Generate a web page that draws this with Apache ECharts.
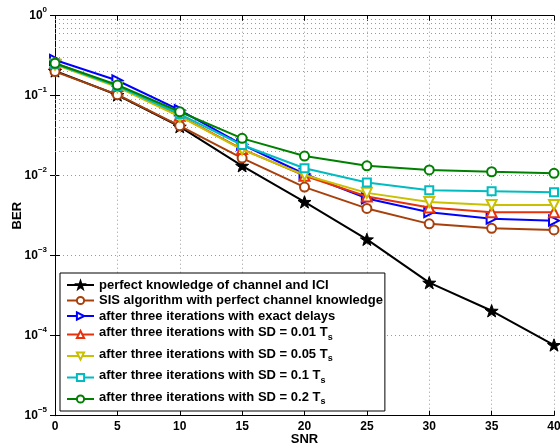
<!DOCTYPE html>
<html><head><meta charset="utf-8">
<script src="https://cdn.jsdelivr.net/npm/echarts@6/dist/echarts.min.js"></script>
<style>html,body{margin:0;padding:0;background:#fff}#c{width:560px;height:448px}</style>
</head><body><div id="c"></div>
<script>
const snr = [0, 5, 10, 15, 20, 25, 30, 35, 40];
const perfectICI  = [0.204, 0.102, 0.041, 0.0133, 0.0047, 0.0016, 0.00046, 0.000205, 0.0000765];
const sisPerfect  = [0.200, 0.103, 0.042, 0.0166, 0.0072, 0.0039, 0.0025, 0.0022, 0.0021];
const exactDelays = [0.280, 0.155, 0.066, 0.0245, 0.0105, 0.0052, 0.0035, 0.0029, 0.00274];
const sd001       = [0.255, 0.132, 0.056, 0.0215, 0.0100, 0.0055, 0.0040, 0.0035, 0.0035];
const sd005       = [0.245, 0.128, 0.055, 0.0212, 0.0102, 0.0061, 0.0047, 0.0043, 0.0043];
const sd01        = [0.250, 0.132, 0.059, 0.0242, 0.0124, 0.0082, 0.0066, 0.0064, 0.0062];
const sd02        = [0.254, 0.136, 0.063, 0.0293, 0.0176, 0.0133, 0.0118, 0.0112, 0.0107];
const seriesNames = [
  'perfect knowledge of channel and ICI',
  'SIS algorithm with perfect channel knowledge',
  'after three iterations with exact delays',
  'after three iterations with SD = 0.01 T_s',
  'after three iterations with SD = 0.05 T_s',
  'after three iterations with SD = 0.1 T_s',
  'after three iterations with SD = 0.2 T_s'
];
const xTicks = ['0', '5', '10', '15', '20', '25', '30', '35', '40'];

const STAR = 'path://M50 0 L61.75 33.8 L97.55 34.55 L69 56.2 L79.4 90.45 L50 70 L20.6 90.45 L31 56.2 L2.45 34.55 L38.25 33.8 Z';
const styles = [
  {color: '#000000', symbol: STAR, size: 13, rot: 0, fill: '#000000'},
  {color: '#A8400C', symbol: 'circle', size: 9, rot: 0, fill: '#ffffff'},
  {color: '#0000FF', symbol: 'triangle', size: 10, rot: -90, fill: '#ffffff'},
  {color: '#E8300A', symbol: 'triangle', size: 10, rot: 0, fill: '#ffffff'},
  {color: '#C8C000', symbol: 'triangle', size: 10, rot: 180, fill: '#ffffff'},
  {color: '#00BCC0', symbol: 'rect', size: 8, rot: 0, fill: '#ffffff'},
  {color: '#008000', symbol: 'circle', size: 9, rot: 0, fill: '#ffffff'}
];
const dataSets = [perfectICI, sisPerfect, exactDelays, sd001, sd005, sd01, sd02];

const minorVals = [];
for (let e = -5; e < 0; e++) for (let m = 2; m <= 9; m++) minorVals.push(m * Math.pow(10, e));

const FONT = '"Liberation Sans", Arial, sans-serif';
const series = dataSets.map((d, i) => ({
  name: seriesNames[i],
  type: 'line',
  data: snr.map((x, j) => [x, d[j]]),
  symbol: styles[i].symbol,
  symbolSize: styles[i].size,
  symbolRotate: styles[i].rot,
  symbolKeepAspect: true,
  showAllSymbol: true,
  lineStyle: {color: styles[i].color, width: 2},
  itemStyle: {color: styles[i].fill, borderColor: styles[i].color, borderWidth: i === 0 ? 1 : 2},
  z: 10 + i,
  animation: false
}));
series.push({
  name: '_minor', type: 'line', data: [], silent: true, animation: false,
  markLine: {
    silent: true, symbol: ['none', 'none'], label: {show: false}, animation: false,
    lineStyle: {color: '#9a9a9a', type: [1, 3], width: 1},
    data: minorVals.map(v => ({yAxis: v}))
  }
});

const chart = echarts.init(document.getElementById('c'), null, {renderer: 'canvas'});
chart.setOption({
  animation: false,
  backgroundColor: '#ffffff',
  grid: {left: 55, right: 6, top: 15.7, bottom: 32.3, containLabel: false, outerBoundsMode: 'none'},
  xAxis: [{
    type: 'value', min: 0, max: 40, interval: 5,
    name: 'SNR', nameLocation: 'middle', nameGap: 17, nameMoveOverlap: false,
    nameTextStyle: {fontFamily: FONT, fontWeight: 'bold', fontSize: 13, color: '#000'},
    axisLine: {lineStyle: {color: '#000', width: 1}},
    axisTick: {inside: true, length: 5, lineStyle: {color: '#000'}},
    axisLabel: {fontFamily: FONT, fontWeight: 'bold', fontSize: 12, color: '#000', margin: 5,
      formatter: v => xTicks[Math.round(v / 5)]},
    splitLine: {show: true, lineStyle: {color: '#9a9a9a', type: [1, 3], width: 1}}
  }, {
    type: 'value', min: 0, max: 40, interval: 5, position: 'top',
    axisLine: {show: true, lineStyle: {color: '#000', width: 1}},
    axisTick: {inside: true, length: 5, lineStyle: {color: '#000'}},
    axisLabel: {show: false}, splitLine: {show: false}
  }],
  yAxis: [{
    type: 'log', logBase: 10, min: 1e-5, max: 1,
    name: 'BER', nameLocation: 'middle', nameGap: 31, nameRotate: 90, nameMoveOverlap: false,
    nameTextStyle: {fontFamily: FONT, fontWeight: 'bold', fontSize: 13, color: '#000'},
    axisLine: {show: true, lineStyle: {color: '#000', width: 1}},
    axisTick: {show: true, inside: true, length: 5, lineStyle: {color: '#000'}},
    axisLabel: {
      margin: 8,
      formatter: v => '{b|10}{s|' + String(Math.round(Math.log10(v))).replace('-', '\u2212') + '}',
      rich: {
        b: {fontFamily: FONT, fontWeight: 'bold', fontSize: 12, color: '#000', lineHeight: 20, verticalAlign: 'middle'},
        s: {fontFamily: FONT, fontWeight: 'bold', fontSize: 8, color: '#000', verticalAlign: 'top', lineHeight: 20}
      }
    },
    splitLine: {show: true, lineStyle: {color: '#9a9a9a', type: [1, 3], width: 1}}
  }, {
    type: 'log', logBase: 10, min: 1e-5, max: 1, position: 'right',
    axisLine: {show: true, lineStyle: {color: '#000', width: 1}},
    axisTick: {show: true, inside: true, length: 5, lineStyle: {color: '#000'}},
    axisLabel: {show: false}, splitLine: {show: false}
  }],
  legend: {
    data: seriesNames,
    orient: 'vertical', left: 60, top: 273,
    padding: [4.5, 2, 1.5, 6], itemGap: 0.5, itemWidth: 27, itemHeight: 9,
    borderColor: '#000', borderWidth: 1, backgroundColor: '#ffffff',
    inactiveColor: '#000',
    formatter: name => {
      if (name.endsWith('T_s')) return '{a|' + name.slice(0, -2) + '}{s|s}';
      return '{p|' + name + '}';
    },
    textStyle: {
      fontFamily: FONT, fontWeight: 'bold', fontSize: 13, color: '#000',
      backgroundColor: 'rgba(255,255,255,0)',
      rich: {
        p: {fontFamily: FONT, fontWeight: 'bold', fontSize: 13, color: '#000', verticalAlign: 'middle', lineHeight: 15},
        a: {fontFamily: FONT, fontWeight: 'bold', fontSize: 13, color: '#000', verticalAlign: 'top', lineHeight: 21, padding: [2, 0, 0, 0]},
        s: {fontFamily: FONT, fontWeight: 'bold', fontSize: 9, color: '#000', verticalAlign: 'top', lineHeight: 21, padding: [9, 0, 0, 0]}
      }
    }
  },
  series: series
});
</script></body></html>
